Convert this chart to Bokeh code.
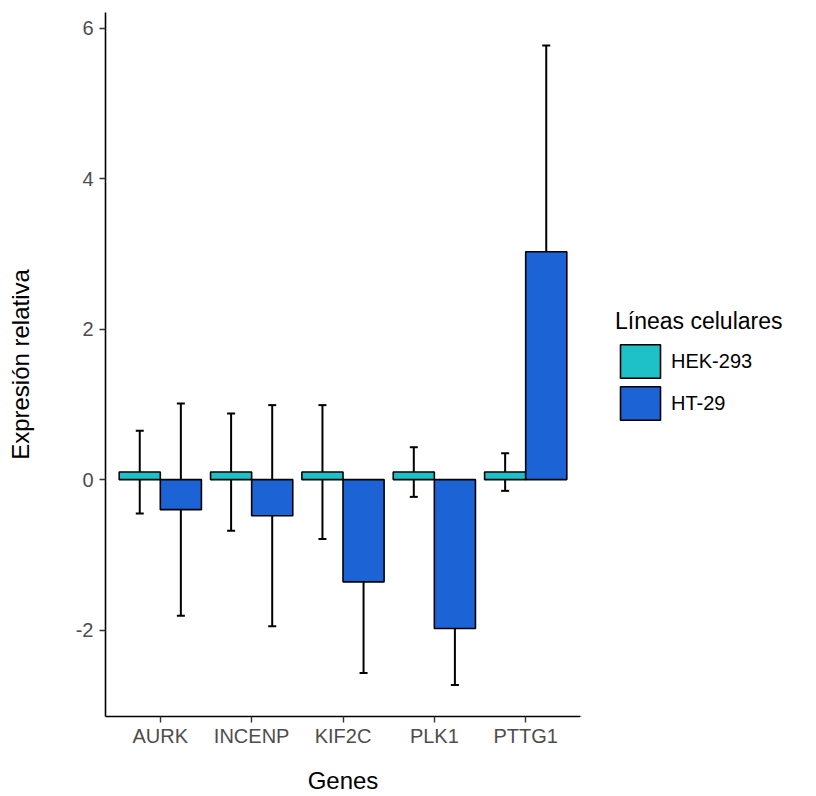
from bokeh.plotting import figure
from bokeh.layouts import row
from bokeh.models import (ColumnDataSource, FactorRange, Range1d, FixedTicker, Whisker,
                          TeeHead, Legend, LegendItem)
from bokeh.transform import dodge
from bokeh.embed import file_html
from bokeh.resources import INLINE

genes = ["AURK", "INCENP", "KIF2C", "PLK1", "PTTG1"]
lines = ["HEK-293", "HT-29"]
hek_mean = [0.10, 0.10, 0.10, 0.10, 0.10]
hek_err = [0.55, 0.78, 0.89, 0.33, 0.25]
ht_mean = [-0.40, -0.48, -1.36, -1.98, 3.03]
ht_err = [1.41, 1.47, 1.21, 0.75, 2.74]
y_ticks = [-2, 0, 2, 4, 6]
y_tick_labels = ["-2", "0", "2", "4", "6"]
colors = ["#1FC1C9", "#1C63D6"]

FONT = "Liberation Sans"
TOTAL_H = 796

src_hek = ColumnDataSource(dict(
    gene=genes, val=hek_mean,
    up=[m + e for m, e in zip(hek_mean, hek_err)],
    lo=[m - e for m, e in zip(hek_mean, hek_err)]))
src_ht = ColumnDataSource(dict(
    gene=genes, val=ht_mean,
    up=[m + e for m, e in zip(ht_mean, ht_err)],
    lo=[m - e for m, e in zip(ht_mean, ht_err)]))

p = figure(x_range=FactorRange(*genes, range_padding=0.1, range_padding_units="absolute"),
           y_range=Range1d(-3.15, 6.21),
           width=580, height=TOTAL_H, output_backend="svg", toolbar_location=None,
           min_border_left=105, min_border_right=0, min_border_top=12, min_border_bottom=77)

p.outline_line_color = None
p.xgrid.grid_line_color = None
p.ygrid.grid_line_color = None
p.background_fill_color = "white"

bw = 0.45
r1 = p.vbar(x=dodge("gene", -0.225, range=p.x_range), top="val", bottom=0, width=bw,
            source=src_hek, fill_color=colors[0], line_color="black", line_width=1.6)
r2 = p.vbar(x=dodge("gene", 0.225, range=p.x_range), top="val", bottom=0, width=bw,
            source=src_ht, fill_color=colors[1], line_color="black", line_width=1.6)

for src, off in ((src_hek, -0.225), (src_ht, 0.225)):
    w = Whisker(source=src, base=dodge("gene", off, range=p.x_range), upper="up", lower="lo",
                dimension="height", line_color="black", line_width=2,
                upper_head=TeeHead(size=8, line_width=2, line_color="black"),
                lower_head=TeeHead(size=8, line_width=2, line_color="black"))
    p.add_layout(w)

# axes
for ax in (p.xaxis[0], p.yaxis[0]):
    ax.axis_line_color = "black"
    ax.axis_line_width = 1.6
    ax.major_tick_line_color = "#333333"
    ax.major_tick_line_width = 1.4
    ax.major_tick_out = 6
    ax.major_tick_in = 0
    ax.minor_tick_line_color = None
    ax.major_label_text_font = FONT
    ax.major_label_text_font_size = "20px"
    ax.major_label_text_color = "#4D4D4D"
    ax.axis_label_text_font = FONT
    ax.axis_label_text_font_size = "24px"
    ax.axis_label_text_font_style = "normal"
    ax.axis_label_text_color = "black"

p.xaxis.axis_label = "Genes"
p.xaxis.major_label_standoff = 2
p.xaxis.axis_label_standoff = 17

p.yaxis.axis_label = "Expresión relativa"
p.yaxis.ticker = FixedTicker(ticks=y_ticks)
p.yaxis.major_label_overrides = {t: s for t, s in zip(y_ticks, y_tick_labels)}
p.yaxis.major_label_standoff = 6
p.yaxis.axis_label_standoff = 39

# legend panel (separate figure so that the legend is not clipped)
lf = figure(width=230, height=TOTAL_H, output_backend="svg", toolbar_location=None,
            x_range=Range1d(0, 1), y_range=Range1d(0, 1), x_axis_type=None, y_axis_type=None,
            min_border=0)
lf.outline_line_color = None
lf.xgrid.grid_line_color = None
lf.ygrid.grid_line_color = None
# legend proxies, kept outside the visible range of this panel
proxy = ColumnDataSource(dict(x=[-10], top=[-9], bottom=[-10]))
k1 = lf.vbar(x="x", top="top", bottom="bottom", width=0.1, source=proxy,
             fill_color=colors[0], line_color="black", line_width=1.6)
k2 = lf.vbar(x="x", top="top", bottom="bottom", width=0.1, source=proxy,
             fill_color=colors[1], line_color="black", line_width=1.6)

legend = Legend(items=[LegendItem(label=lines[0], renderers=[k1]),
                       LegendItem(label=lines[1], renderers=[k2])],
                title="Líneas celulares", location=(35, 292),
                title_text_font=FONT, title_text_font_size="23px", title_text_color="black",
                title_text_font_style="normal", title_standoff=5,
                label_text_font=FONT, label_text_font_size="20px", label_text_color="black",
                glyph_width=50, glyph_height=42, label_height=42, label_standoff=6,
                spacing=-6, margin=0, padding=6,
                border_line_color=None, background_fill_alpha=0)
lf.add_layout(legend, "center")

layout = row(p, lf)
open("out.html", "w").write(file_html(layout, INLINE))
